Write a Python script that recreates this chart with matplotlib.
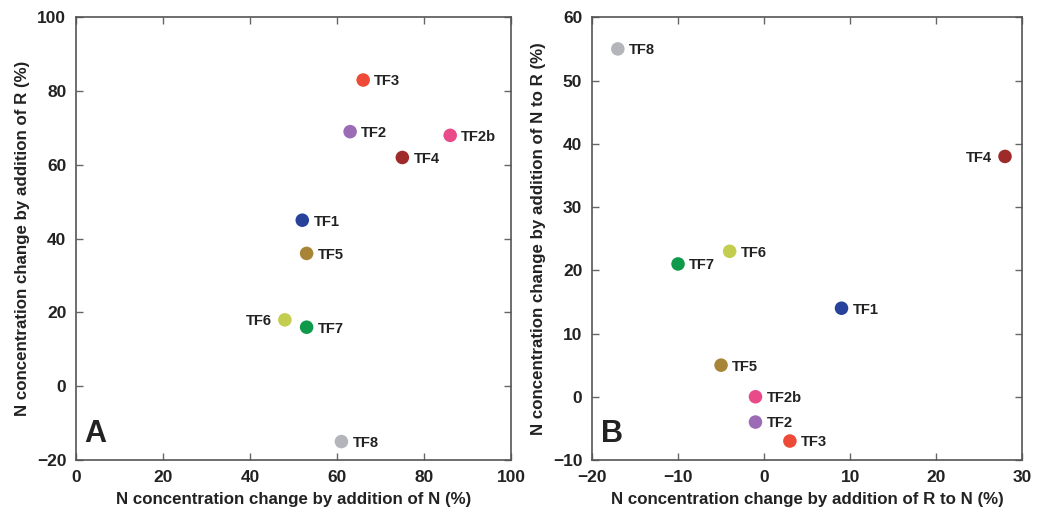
import matplotlib.pyplot as plt

plt.rcParams['font.family'] = ['Liberation Sans', 'DejaVu Sans']
plt.rcParams['font.weight'] = 'bold'

names = ['TF1', 'TF2', 'TF2b', 'TF3', 'TF4', 'TF5', 'TF6', 'TF7', 'TF8']
colors = ['#27429a', '#9b6bb5', '#e94a8a', '#ee4a38', '#9e2a2a',
          '#a88536', '#c3cd50', '#0e9a4a', '#b4b5ba']

a_x = [52, 63, 86, 66, 75, 53, 48, 53, 61]
a_y = [45, 69, 68, 83, 62, 36, 18, 16, -15]
a_left = ['TF6']

b_x = [9, -1, -1, 3, 28, -5, -4, -10, -17]
b_y = [14, -4, 0, -7, 38, 5, 23, 21, 55]
b_left = ['TF4']

fig = plt.figure(figsize=(10.56, 5.16), dpi=100)
axA = fig.add_axes([0.072, 0.1085, 0.412, 0.858])
axB = fig.add_axes([0.5606, 0.1085, 0.4074, 0.858])


def fmt(t):
    return '\u2212' + str(-t) if t < 0 else str(t)


def panel(ax, xs, ys, left, xlim, ylim, xticks, yticks, xlabel, ylabel, letter):
    ax.scatter(xs, ys, s=95, c=colors, zorder=3, edgecolors='none')
    for n, x, y in zip(names, xs, ys):
        if n in left:
            ax.annotate(n, (x, y), xytext=(-9, -1), textcoords='offset points',
                        ha='right', va='center', fontsize=10.6, fontweight='bold', color='#222222')
        else:
            ax.annotate(n, (x, y), xytext=(8, -1), textcoords='offset points',
                        ha='left', va='center', fontsize=10.6, fontweight='bold', color='#222222')
    ax.set_xlim(xlim)
    ax.set_ylim(ylim)
    ax.set_xticks(xticks)
    ax.set_yticks(yticks)
    ax.set_xticklabels([fmt(t) for t in xticks])
    ax.set_yticklabels([fmt(t) for t in yticks])
    ax.tick_params(direction='in', top=True, right=True, length=5, width=1,
                   color='#666666', labelsize=12.5, pad=7, labelcolor='#222222')
    for sp in ax.spines.values():
        sp.set_color('#555555')
        sp.set_linewidth(1.2)
    ax.set_xlabel(xlabel, fontsize=12.2, fontweight='bold', color='#222222', labelpad=5)
    ax.set_ylabel(ylabel, fontsize=12.2, fontweight='bold', color='#222222', labelpad=5)
    ax.text(0.02, 0.025, letter, transform=ax.transAxes, fontsize=22,
            fontweight='bold', color='#222222', ha='left', va='bottom')


panel(axA, a_x, a_y, a_left, (0, 100), (-20, 100), range(0, 101, 20), range(-20, 101, 20),
      'N concentration change by addition of N (%)',
      'N concentration change by addition of R (%)', 'A')
panel(axB, b_x, b_y, b_left, (-20, 30), (-10, 60), range(-20, 31, 10), range(-10, 61, 10),
      'N concentration change by addition of R to N (%)',
      'N concentration change by addition of N to R (%)', 'B')

fig.savefig('out.png', dpi=100)
